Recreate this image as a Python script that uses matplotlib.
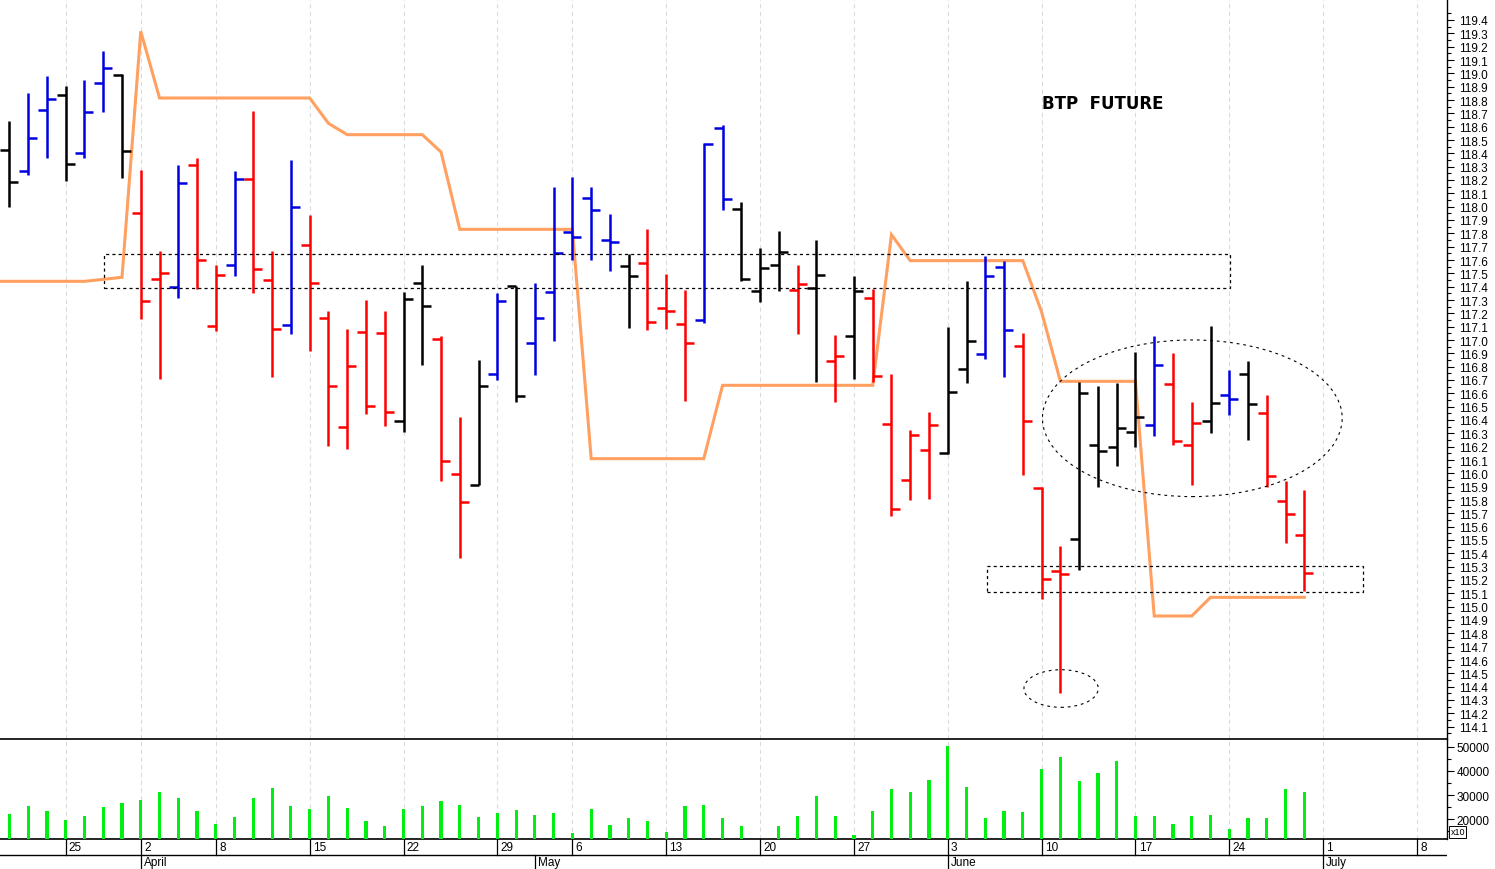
import numpy as np
import pandas as pd
import matplotlib
matplotlib.use("Agg")
import matplotlib.pyplot as plt
from matplotlib.collections import LineCollection
from matplotlib.patches import Rectangle, Ellipse

plt.rcParams['font.family'] = ['Liberation Sans', 'DejaVu Sans']

# ---------------- data ----------------
holidays = ['2024-03-29', '2024-04-01', '2024-05-01']
axis_dates = pd.bdate_range('2024-03-20', '2024-07-12')
axis_dates = axis_dates[~axis_dates.isin(pd.to_datetime(holidays))]
n_bars = 70  # 2024-03-20 .. 2024-06-28

opens = [118.425, 118.265, 118.725, 118.84, 118.40, 118.925, 118.99, 117.95, 117.46, 117.395,
         118.31, 117.105, 117.56, 118.21, 117.45, 117.11, 117.71, 117.165, 116.345, 117.06,
         117.05, 116.395, 117.43, 117.01, 115.995, 115.91, 116.745, 117.405, 116.975, 117.36,
         117.81, 118.065, 117.75, 117.555, 117.58, 117.24, 117.12, 117.15, 118.59, 117.98,
         117.365, 117.565, 117.375, 117.39, 116.84, 117.03, 117.315, 116.37, 115.95, 116.175,
         116.15, 116.78, 116.895, 117.545, 116.955, 115.89, 115.27, 115.51, 116.215, 116.195,
         116.31, 116.365, 116.67, 116.215, 116.39, 116.59, 116.745, 116.45, 115.79, 115.54]
highs = [118.645, 118.85, 118.98, 118.905, 118.95, 119.165, 118.995, 118.275, 117.665, 118.31,
         118.365, 117.565, 118.265, 118.715, 117.67, 118.35, 117.94, 117.215, 117.08, 117.30,
         117.22, 117.36, 117.565, 117.03, 116.425, 116.85, 117.35, 117.405, 117.425, 118.15,
         118.22, 118.145, 117.945, 117.645, 117.83, 117.495, 117.375, 118.475, 118.61, 118.035,
         117.69, 117.82, 117.565, 117.75, 117.04, 117.48, 117.38, 116.745, 116.325, 116.46,
         117.095, 117.445, 117.63, 117.59, 117.05, 115.90, 115.455, 116.685, 116.655, 116.675,
         116.91, 117.03, 116.90, 116.535, 117.105, 116.775, 116.845, 116.59, 115.94, 115.875]
lows = [117.995, 118.235, 118.365, 118.19, 118.365, 118.71, 118.215, 117.155, 116.71, 117.315,
        117.38, 117.065, 117.48, 117.35, 116.72, 117.045, 116.915, 116.205, 116.18, 116.445,
        116.355, 116.31, 116.81, 115.945, 115.365, 115.91, 116.70, 116.535, 116.74, 116.99,
        117.60, 117.60, 117.515, 117.09, 117.075, 117.08, 116.545, 117.125, 117.975, 117.445,
        117.285, 117.37, 117.045, 116.685, 116.535, 116.705, 116.685, 115.68, 115.80, 115.805,
        116.145, 116.675, 116.855, 116.725, 115.99, 115.055, 114.355, 115.275, 115.90, 116.055,
        116.20, 116.28, 116.215, 115.915, 116.30, 116.44, 116.25, 115.90, 115.475, 115.115]
closes = [118.185, 118.515, 118.81, 118.32, 118.71, 119.04, 118.42, 117.29, 117.50, 118.18,
          117.60, 117.49, 118.21, 117.53, 117.08, 118.00, 117.425, 116.655, 116.805, 116.505,
          116.46, 117.31, 117.255, 116.09, 115.785, 116.655, 117.29, 116.58, 117.165, 117.655,
          117.77, 117.975, 117.735, 117.48, 117.135, 117.215, 116.975, 118.47, 118.055, 117.455,
          117.54, 117.66, 117.42, 117.49, 116.88, 117.365, 116.73, 115.73, 116.29, 116.36,
          116.61, 116.99, 117.48, 117.075, 116.395, 115.21, 115.245, 116.60, 116.17, 116.34,
          116.42, 116.815, 116.245, 116.38, 116.525, 116.56, 116.52, 115.98, 115.695, 115.25]
bar_colors = list("kbbkbbkrrbrrbrrbrrrrrkkrrkbkbbbbbkrrrbbkkkrkrkrrrrkkbbrrrkkkkbrrkbkrrr")
volume = [22100, 25600, 23500, 19600, 21250, 24900, 26700, 27800, 31400, 28900,
          23300, 18100, 21000, 28900, 32900, 25600, 24200, 29600, 24600, 19300,
          17200, 24200, 25300, 27500, 25800, 20800, 22500, 23900, 21700, 22500,
          14000, 24200, 17600, 20600, 19300, 14600, 25300, 25700, 20400, 17100,
          11000, 17100, 21100, 29600, 21250, 13300, 23300, 32500, 31250, 36100,
          50300, 33200, 20600, 23500, 22900, 40800, 45700, 35700, 39000, 44000,
          21400, 21250, 17800, 21400, 21700, 15800, 20600, 20600, 32500, 31400]
# stop line, starts one session before the first visible bar
stop_line = ([117.44] * 6 + [117.455, 117.47, 119.315] + [118.815] * 9 + [118.625]
             + [118.54] * 5 + [118.41] + [117.83] * 7 + [116.11] * 7 + [116.66] * 9
             + [117.79] + [117.595] * 7 + [117.21] + [116.69] * 5 + [114.93] * 3 + [115.07] * 6)

color_map = {'k': '#000000', 'b': '#0000e0', 'r': '#ff0000'}

# ---------------- figure ----------------
W, H = 1495, 870
fig = plt.figure(figsize=(W / 100, H / 100), dpi=100)
axw = 1447 / W
axd = fig.add_axes([0, 0, axw, 30 / H])
axv = fig.add_axes([0, 30 / H, axw, 100 / H])
axp = fig.add_axes([0, 130 / H, axw, 740 / H])
for a in (axp, axv, axd):
    a.patch.set_alpha(0)

xlim = (-0.5, 76.6)
for a in (axp, axv, axd):
    a.set_xlim(*xlim)
    a.set_xticks([])

x = np.arange(n_bars)
week_starts = [i for i in range(1, len(axis_dates))
               if axis_dates[i].isocalendar().week != axis_dates[i - 1].isocalendar().week]
month_starts = [i for i in range(1, len(axis_dates))
                if axis_dates[i].month != axis_dates[i - 1].month]

# grid
for a in (axp, axv):
    for i in week_starts:
        a.axvline(i, color='#dcdcdc', lw=0.8, ls=(0, (4, 3)), zorder=0)

# OHLC bars
tick = 0.48
segs, cols = [], []
for i in range(n_bars):
    c = color_map[bar_colors[i]]
    segs += [[(x[i], lows[i]), (x[i], highs[i])],
             [(x[i] - tick, opens[i]), (x[i], opens[i])],
             [(x[i], closes[i]), (x[i] + tick, closes[i])]]
    cols += [c, c, c]
axp.add_collection(LineCollection(segs, colors=cols, linewidths=1.8, capstyle='butt', zorder=3))

# stop line
axp.plot(np.arange(-1, n_bars), stop_line, color='#ffa060', lw=2.2, zorder=2,
         solid_joinstyle='miter')

# annotations
dash = (0, (2.5, 2.5))
axp.add_patch(Rectangle((5.06, 117.388), 60.0, 0.255, fill=False, ec='black', lw=0.9, ls=dash, zorder=4))
axp.add_patch(Rectangle((52.1, 115.108), 20.0, 0.199, fill=False, ec='black', lw=0.9, ls=dash, zorder=4))
axp.add_patch(Ellipse((63.03, 116.413), 15.97, 1.175, fill=False, ec='black', lw=0.8,
                      ls=(0, (2.5, 3.5)), zorder=4))
axp.add_patch(Ellipse((56.04, 114.386), 3.96, 0.282, fill=False, ec='black', lw=0.8,
                      ls=(0, (2.5, 3.5)), zorder=4))
axp.text(58.25, 118.78, 'BTP  FUTURE', fontsize=12, fontweight='bold', ha='center', va='center',
         family=['DejaVu Sans'])

# price axis
axp.set_ylim(114.0075, 119.5575)
axp.yaxis.tick_right()
pt = np.round(np.arange(114.1, 119.41, 0.1), 1)
axp.set_yticks(pt)
axp.set_yticklabels([f"{v:.1f}" for v in pt], fontsize=8.5)
axp.set_yticks(np.round(np.arange(114.05, 119.5, 0.1), 2), minor=True)
axp.tick_params(axis='y', which='major', length=5, width=0.8, pad=4)
axp.tick_params(axis='y', which='minor', length=3, width=0.8)
for s in ('top', 'left'):
    axp.spines[s].set_visible(False)
axp.spines['right'].set_linewidth(1.0)
axp.spines['bottom'].set_linewidth(1.2)

# volume
axv.bar(x, volume, width=0.17, color='#00ee11', zorder=3)
axv.set_ylim(11667, 53333)
axv.yaxis.tick_right()
vt = [20000, 30000, 40000, 50000]
axv.set_yticks(vt)
axv.set_yticklabels([str(v) for v in vt], fontsize=8.5)
axv.set_yticks([15000, 25000, 35000, 45000], minor=True)
axv.tick_params(axis='y', which='major', length=5, width=0.8, pad=2)
axv.tick_params(axis='y', which='minor', length=3, width=0.8)
for s in ('top', 'left'):
    axv.spines[s].set_visible(False)
axv.spines['right'].set_linewidth(1.0)
axv.spines['bottom'].set_linewidth(1.2)
fig.text(1450.5 / W, (H - 833) / H, 'x10', fontsize=6.5, ha='left', va='center',
         bbox=dict(boxstyle='square,pad=0.15', fc='white', ec='black', lw=0.7))

# date band
axd.set_ylim(0, 30)
axd.set_yticks([])
for s in axd.spines.values():
    s.set_visible(False)
axd.axhline(14, color='black', lw=1.0)
for i in week_starts:
    axd.plot([i, i], [14, 30], color='black', lw=0.9)
    axd.text(i + 0.17, 22, str(axis_dates[i].day), fontsize=8.5, ha='left', va='center')
for i in month_starts:
    axd.plot([i, i], [0, 14], color='black', lw=0.9)
    axd.text(i + 0.17, 6.5, axis_dates[i].strftime('%B'), fontsize=8.5, ha='left', va='center')

fig.savefig('out.png', dpi=100)
